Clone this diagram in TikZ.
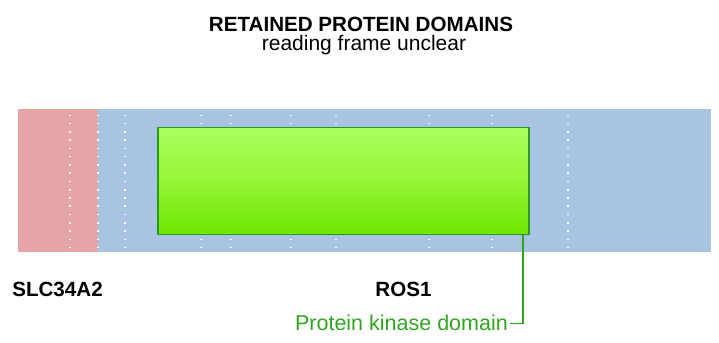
\documentclass[tikz,border=0pt]{standalone}
\usepackage{fontspec}
\setmainfont{Liberation Sans}
\definecolor{slcred}{HTML}{E5A5A6}
\definecolor{rosblue}{HTML}{A8C4E2}
\definecolor{pktop}{HTML}{AAFF5E}
\definecolor{pkmid}{HTML}{95F535}
\definecolor{pkbot}{HTML}{6CE600}
\definecolor{pkedge}{HTML}{2A9A1C}
\definecolor{pktext}{HTML}{2FA51F}
\begin{document}
\begin{tikzpicture}[x=1bp,y=-1bp,
  seg/.style={draw=none,inner sep=0pt,outer sep=0pt,anchor=north west,minimum height=143bp},
  domainbox/.style={draw=pkedge,line width=1.8bp,top color=pktop,bottom color=pkbot,middle color=pkmid,inner sep=0pt,anchor=north west},
  gene/.style={font=\fontsize{20.6bp}{22bp}\selectfont\bfseries,inner sep=0pt,anchor=base},
  conn/.style={draw=pktext,line width=1.5bp},
  dotmark/.style={fill=white,draw=none}
]
\useasboundingbox (0,0) rectangle (719,342);
% title
\node[font=\fontsize{20.6bp}{22bp}\selectfont\bfseries,inner sep=0pt,anchor=base] (title) at (361,31) {RETAINED PROTEIN DOMAINS};
\node[font=\fontsize{21bp}{24bp}\selectfont,inner sep=0pt,anchor=base] (subtitle) at (364,50) {reading frame unclear};
% segments
\node[seg,fill=slcred,minimum width=80bp] (slc) at (18,109) {};
\node[seg,fill=rosblue,minimum width=613bp] (ros) at (98,109) {};
% dotted separators
\foreach \x in {70,98,125,201,231,291,336,429,492,568}{
  \foreach \k in {0,...,16}{
    \fill[dotmark] ({\x-0.8},{115.3+8.27*\k-0.8}) rectangle ++(1.6,1.6);
  }
}
% domain
\node[domainbox,minimum width=371bp,minimum height=107bp] (pk) at (157,126.5) {};
% labels
\node[gene] (slclabel) at (57.5,296.5) {SLC34A2};
\node[gene] (roslabel) at (403.5,296.5) {ROS1};
\node[font=\fontsize{21.5bp}{24bp}\selectfont,text=pktext,inner sep=0pt,anchor=base east] (pklabel) at (508,330) {Protein kinase domain};
\coordinate (pkfoot) at ([xshift=-7bp]pk.south east);
\coordinate (pkend) at ([xshift=2bp,yshift=-1bp]pklabel.east);
\draw[conn] (pkfoot) |- (pkend);
\end{tikzpicture}
\end{document}
